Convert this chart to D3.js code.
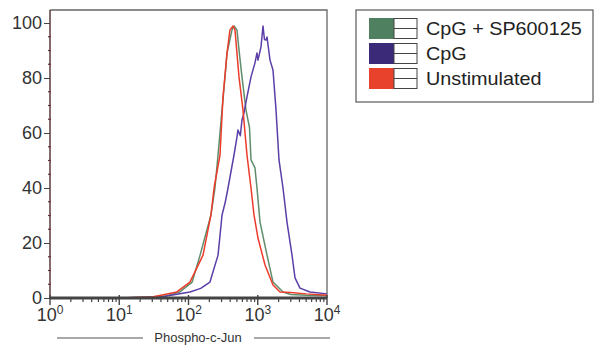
<!DOCTYPE html>
<html><head><meta charset="utf-8">
<script src="https://cdn.jsdelivr.net/npm/d3@7"></script>
<style>body{margin:0;background:#fff}svg{display:block}text{font-family:"Liberation Sans",Arial,sans-serif}</style>
</head><body><svg id="c" width="605" height="351"></svg>
<script>
// ---- data ----
const seriesNames = ["CpG + SP600125", "CpG", "Unstimulated"];
const seriesColors = ["#4f8060", "#3a2a78", "#e8412c"];
const lineColors = ["#5f8d6c", "#5b3ea8", "#ec3b2a"];
// intensity (channel value) and % of max
const greenX = [10,25,45,75,113,147,211,241,267,305,337,360,425,454,501,536,592,676,723,760,799,912,975,1078,1361,1660,2316,3000,5000,10000];
const greenY = [0,0.4,0.6,2.2,5.8,15.6,30.2,40,52,68.4,80.4,89.1,97.5,98.9,97.5,90.2,80.4,68.4,64.7,62,50.2,47.3,40,27.6,15.6,5.8,2.2,1.3,1,0.8];
const purpleX = [10,40,105,150,204,267,305,340,372,454,501,518,560,592,633,699,799,912,975,1008,1114,1191,1250,1316,1361,1503,1660,1835,2027,2316,2644,3124,3452,4075,5683,10000];
const purpleY = [0,0.4,2.2,3.5,5.8,15.6,30.2,34.9,40,52,58.5,61.1,59,64.7,67.3,73.1,80.4,85.5,89.1,86.5,91.3,98.9,94,93.8,94.9,86.5,82.9,68.4,50.2,40,27.6,15.6,7.3,3.6,2.2,1.5];
const redX = [10,30,68,105,162,211,234,285,315,360,397,440,469,536,612,699,799,883,1008,1274,1660,2096,3000,5000,10000];
const redY = [0,0.4,2.2,5.8,15.6,30.2,40,52,73.1,89.1,97.5,98.9,97.5,80.4,68.4,52,40,30.2,21.8,12,4.7,2.2,2,1.5,1];
const yTicks = [0,20,40,60,80,100];
const xTicks = [1,10,100,1000,10000];
const xTitle = "Phospho-c-Jun";

const svg = d3.select("#c");
const x = d3.scaleLog().domain([1,10000]).range([50,327]);
const y = d3.scaleLinear().domain([0,100]).range([298,23]);

// frame (top/right)
svg.append("path").attr("d",`M50,10H327V298`).attr("fill","none").attr("stroke","#666").attr("stroke-width",1.3);

// curves
const series = [[greenX,greenY],[purpleX,purpleY],[redX,redY]];
const line = d3.line().x(d=>x(d[0])).y(d=>y(d[1]));
// draw order: green, purple, red on top
[0,1,2].forEach(i=>{
  const pts = series[i][0].map((v,j)=>[v,series[i][1][j]]);
  svg.append("path").datum(pts).attr("d",line).attr("fill","none")
    .attr("stroke",lineColors[i]).attr("stroke-width",1.5).attr("stroke-linejoin","round");
});

// y axis
const yAxis = d3.axisLeft(y).tickValues(yTicks).tickSize(6).tickPadding(2);
const gy = svg.append("g").attr("transform","translate(50,0)").call(yAxis);
gy.select(".domain").attr("d","M0,10V298").attr("stroke","#5a3a3a").attr("stroke-width",1.5);
gy.selectAll(".tick line").attr("stroke","#444");
gy.selectAll("text").attr("font-size",18).attr("fill","#333").attr("font-family","Liberation Sans, Arial");
const yMinor = d3.range(0,101,5).filter(v=>v%20!==0);
gy.selectAll(".minor").data(yMinor).enter().append("line").attr("class","minor")
  .attr("x1",-2).attr("x2",1).attr("y1",d=>y(d)).attr("y2",d=>y(d)).attr("stroke","#663333").attr("stroke-width",1.2);

// x axis
const gx = svg.append("g").attr("transform","translate(0,298)");
gx.append("line").attr("x1",50).attr("x2",327).attr("y1",0).attr("y2",0).attr("stroke","#444").attr("stroke-width",3);
const minor = [];
for(let d=1; d<10000; d*=10) for(let k=2;k<10;k++) minor.push(d*k);
gx.selectAll(".mn").data(minor).enter().append("line").attr("x1",d=>x(d)).attr("x2",d=>x(d)).attr("y1",0).attr("y2",4).attr("stroke","#444").attr("stroke-width",1.2);
gx.selectAll(".mj").data(xTicks).enter().append("line").attr("x1",d=>x(d)).attr("x2",d=>x(d)).attr("y1",-3).attr("y2",7).attr("stroke","#444").attr("stroke-width",1.4);
const lbl = gx.selectAll(".xl").data(xTicks).enter().append("text")
  .attr("x",d=>x(d)).attr("y",23).attr("text-anchor","middle").attr("font-size",18).attr("fill","#333");
lbl.append("tspan").text("10");
lbl.append("tspan").attr("font-size",12).attr("dy",-7).text(d=>Math.round(Math.log10(d)));

// x title with lines
svg.append("text").attr("x",198).attr("y",342).attr("text-anchor","middle").attr("font-size",13).attr("fill","#333").text(xTitle);
svg.append("line").attr("x1",57).attr("x2",143).attr("y1",338).attr("y2",338).attr("stroke","#555").attr("stroke-width",1.2);
svg.append("line").attr("x1",254).attr("x2",330).attr("y1",338).attr("y2",338).attr("stroke","#555").attr("stroke-width",1.2);

// legend
const lg = svg.append("g");
lg.append("rect").attr("x",356).attr("y",10).attr("width",237).attr("height",92).attr("fill","none").attr("stroke","#666").attr("stroke-width",1.3);
const rowY = [18,43,68];
seriesNames.forEach((n,i)=>{
  const r = lg.append("g").attr("transform",`translate(0,${rowY[i]})`);
  r.append("rect").attr("x",369).attr("y",0).attr("width",25).attr("height",21).attr("fill",seriesColors[i]);
  r.append("rect").attr("x",394).attr("y",0.5).attr("width",23).attr("height",20).attr("fill","#fff").attr("stroke","#444").attr("stroke-width",1);
  r.append("line").attr("x1",394).attr("x2",417).attr("y1",10.5).attr("y2",10.5).attr("stroke","#444").attr("stroke-width",1);
  r.append("text").attr("transform","translate(426,17) scale(1.1,1)").attr("font-size",18).attr("fill","#222").text(n);
});
</script></body></html>
